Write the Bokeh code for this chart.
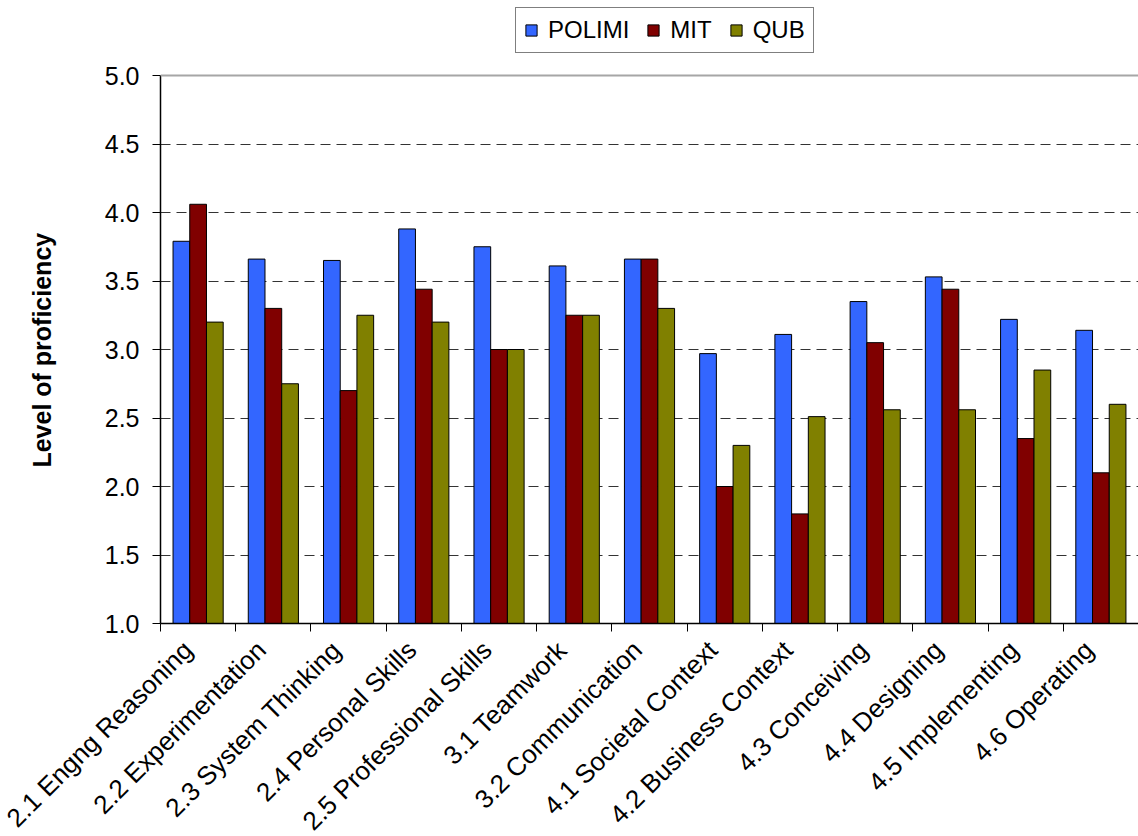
import math
from bokeh.plotting import figure
from bokeh.models import (ColumnDataSource, FixedTicker, NumeralTickFormatter,
                          Range1d, Legend, LegendItem, Span)
from bokeh.embed import file_html
from bokeh.resources import INLINE

# CDIO syllabus topics and self-assessed proficiency per school
categories = [
    "2.1 Engng Reasoning", "2.2 Experimentation", "2.3 System Thinking",
    "2.4 Personal Skills", "2.5 Professional Skills", "3.1 Teamwork",
    "3.2 Communication", "4.1 Societal Context", "4.2 Business Context",
    "4.3 Conceiving", "4.4 Designing", "4.5 Implementing", "4.6 Operating",
]
polimi = [3.79, 3.66, 3.65, 3.88, 3.75, 3.61, 3.66, 2.97, 3.11, 3.35, 3.53, 3.22, 3.14]
mit = [4.06, 3.30, 2.70, 3.44, 3.00, 3.25, 3.66, 2.00, 1.80, 3.05, 3.44, 2.35, 2.10]
qub = [3.20, 2.75, 3.25, 3.20, 3.00, 3.25, 3.30, 2.30, 2.51, 2.56, 2.56, 2.85, 2.60]
series_names = ["POLIMI", "MIT", "QUB"]
series_colors = ["#3366FF", "#800000", "#808000"]
y_ticks = [1.0, 1.5, 2.0, 2.5, 3.0, 3.5, 4.0, 4.5, 5.0]
y_title = "Level of proficiency"

FONT = "Liberation Sans"
n = len(categories)
bar_w = 1 / 4.5
centers = list(range(n))
label_shift = 0.16  # slanted labels end a little left of the group centre

# The frame reaches up to the top of the page so the legend can sit above
# the 5.0 line; the value axis itself only spans 1.0 .. 5.0.
plot_h = 548           # pixels between 1.0 and 5.0
frame_h = 623
y_lo, y_hi = y_ticks[0], y_ticks[-1]
y_top = y_lo + (y_hi - y_lo) * frame_h / plot_h

p = figure(
    frame_width=978, frame_height=frame_h,
    min_border_left=160, min_border_right=0,
    min_border_top=0, min_border_bottom=213,
    x_range=Range1d(-0.5, n - 0.5), y_range=Range1d(y_lo, y_top),
    output_backend="svg", toolbar_location=None,
    background_fill_color="white", border_fill_color="white",
)
p.outline_line_color = None

renderers = []
for k, (name, vals, col) in enumerate(zip(series_names, [polimi, mit, qub], series_colors)):
    src = ColumnDataSource(dict(x=[c + (k - 1) * bar_w for c in centers], top=vals))
    r = p.vbar(x="x", top="top", bottom=y_lo, width=bar_w, source=src,
               fill_color=col, line_color="black", line_width=1)
    renderers.append((name, r))

# top edge of the plotting area
p.add_layout(Span(location=y_hi, dimension="width", line_color="#a6a6a6", line_width=2))

# x axis: labels near group centres, tick marks at group boundaries
label_pos = [c - label_shift for c in centers]
xa = p.xaxis[0]
xa.ticker = FixedTicker(ticks=label_pos, minor_ticks=[c - 0.5 for c in centers] + [n - 0.5])
xa.major_label_overrides = {pos: lab for pos, lab in zip(label_pos, categories)}
xa.major_label_orientation = math.pi / 4
xa.major_tick_out = 0
xa.major_tick_in = 0
xa.minor_tick_out = 8
xa.minor_tick_in = 0
xa.minor_tick_line_color = "black"
xa.axis_line_color = "black"
xa.axis_line_width = 1.5
xa.major_label_text_font = FONT
xa.major_label_text_font_size = "26px"
xa.major_label_text_color = "black"
xa.major_label_standoff = 14

ya = p.yaxis[0]
ya.ticker = FixedTicker(ticks=y_ticks)
ya.bounds = (y_lo, y_hi)
ya.formatter = NumeralTickFormatter(format="0.0")
ya.minor_tick_line_color = None
ya.major_tick_out = 8
ya.major_tick_in = 0
ya.major_tick_line_color = "black"
ya.axis_line_color = "black"
ya.axis_line_width = 1.5
ya.major_label_text_font = FONT
ya.major_label_text_font_size = "25px"
ya.major_label_text_color = "black"
ya.major_label_standoff = 13
# the axis title is centred on the whole frame; trailing no-break spaces keep
# the visible words centred on the 1.0 .. 5.0 span instead
ya.axis_label = y_title + "\u00a0" * 11
ya.axis_label_text_font = FONT
ya.axis_label_text_font_size = "25px"
ya.axis_label_text_font_style = "bold"
ya.axis_label_text_color = "black"
ya.axis_label_standoff = 46

p.xgrid.grid_line_color = None
p.ygrid.ticker = FixedTicker(ticks=y_ticks[1:-1])
p.ygrid.grid_line_color = "#333333"
p.ygrid.grid_line_dash = "10 6"
p.ygrid.grid_line_width = 1

legend = Legend(
    items=[LegendItem(label=nm, renderers=[r]) for nm, r in renderers],
    orientation="horizontal", location=(355, 570),
    label_text_font=FONT, label_text_font_size="24px", label_text_color="black",
    glyph_width=14, glyph_height=14, spacing=17, padding=8, margin=0,
    label_standoff=10, border_line_color="black", border_line_width=1,
    background_fill_color="white", background_fill_alpha=1.0,
)
p.add_layout(legend, "center")

open("out.html", "w").write(file_html(p, INLINE))
